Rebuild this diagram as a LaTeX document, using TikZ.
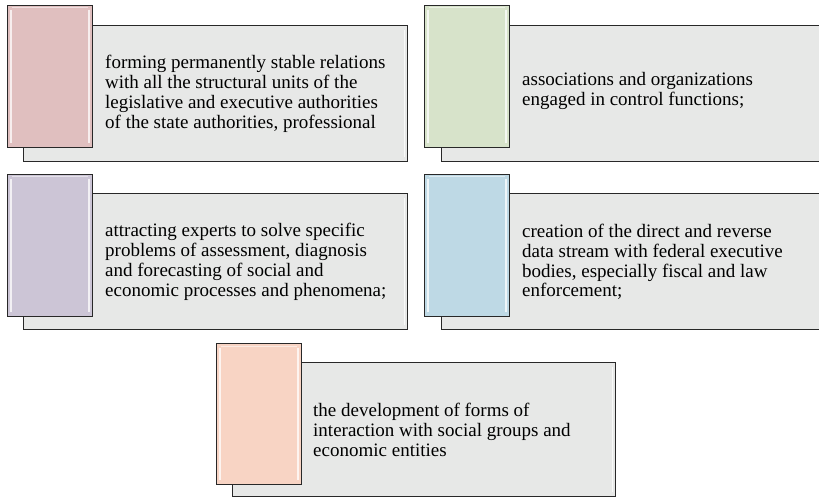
\documentclass[tikz,border=0pt]{standalone}
\usepackage{fontspec}
\setmainfont{Liberation Serif}
\definecolor{boxgray}{RGB}{231,232,231}
\definecolor{tpink}{RGB}{224,191,191}
\definecolor{tgreen}{RGB}{215,227,202}
\definecolor{tpurple}{RGB}{204,197,214}
\definecolor{tblue}{RGB}{190,217,229}
\definecolor{tpeach}{RGB}{248,212,196}
\definecolor{edge}{RGB}{40,40,40}
\begin{document}
\begin{tikzpicture}[x=1pt,y=-1pt,
  back/.style={draw=edge, line width=1.3pt, fill=boxgray, inner sep=0pt, anchor=north west, minimum height=136pt},
  tab/.style={draw=edge, line width=1.1pt, inner sep=0pt, anchor=north west, minimum width=85pt, minimum height=142pt},
  shine/.style={white, line width=1.6pt, opacity=.75},
  txt/.style={anchor=west, align=left, inner sep=0pt, font=\fontsize{19}{19.8}\selectfont}]
\useasboundingbox (0,0) rectangle (819,497);

% row 1
\node[back, minimum width=384pt] (g1) at (23,25) {};
\node[back, minimum width=380pt] (g2) at (441,25) {};
% row 2
\node[back, minimum width=384pt] (g3) at (23,193) {};
\node[back, minimum width=380pt] (g4) at (441,193) {};
% row 3
\node[back, minimum width=383pt, minimum height=134pt] (g5) at (232,362) {};

\node[tab, fill=tpink] (c1) at (7,5) {};
\node[tab, fill=tgreen] (c2) at (424,5) {};
\node[tab, fill=tpurple] (c3) at (7,174) {};
\node[tab, fill=tblue] (c4) at (424,174) {};
\node[tab, fill=tpeach, minimum height=141pt] (c5) at (216,343) {};

\foreach \c in {c1,c2,c3,c4,c5}{
  \draw[shine] ([shift={(4pt,-5pt)}]\c.north west) -- ([shift={(4pt,5pt)}]\c.south west);
  \draw[shine] ([shift={(-4pt,-5pt)}]\c.north east) -- ([shift={(-4pt,5pt)}]\c.south east);
  \draw[white, line width=1pt, opacity=.5] ([shift={(5pt,-3pt)}]\c.north west) -- ([shift={(-5pt,-3pt)}]\c.north east);
}
\foreach \g in {g1,g3,g5}{
  \draw[shine] ([shift={(-4pt,-5pt)}]\g.north east) -- ([shift={(-4pt,5pt)}]\g.south east);
}

\node[txt] (t1) at (105,94) {forming permanently stable relations\\with all the structural units of the\\legislative and executive authorities\\of the state authorities, professional};
\node[txt] (t2) at (522,91) {associations and organizations\\engaged in control functions;};
\node[txt] (t3) at (105,262) {attracting experts to solve specific\\problems of assessment, diagnosis\\and forecasting of social and\\economic processes and phenomena;};
\node[txt] (t4) at (522,262) {creation of the direct and reverse\\data stream with federal executive\\bodies, especially fiscal and law\\enforcement;};
\node[txt] (t5) at (313,430) {the development of forms of\\interaction with social groups and\\economic entities};
\end{tikzpicture}
\end{document}
